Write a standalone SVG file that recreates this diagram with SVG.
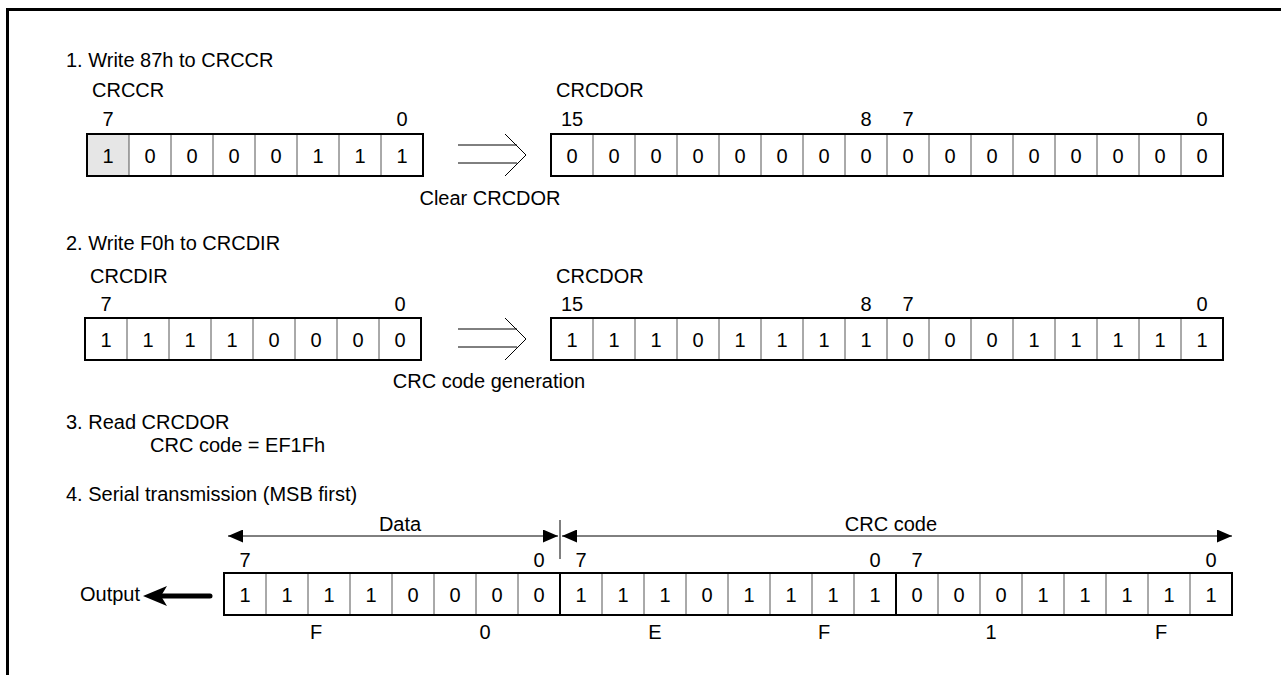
<svg xmlns="http://www.w3.org/2000/svg" width="1281" height="675" viewBox="0 0 1281 675">
<style>
text{font-family:"Liberation Sans",Arial,sans-serif;font-size:20px;fill:#000}
.c{text-anchor:middle}
.box{fill:none;stroke:#000;stroke-width:2}
.div{stroke:#555;stroke-width:1}
.sep{stroke:#000;stroke-width:2}
.thin{stroke:#000;stroke-width:1;fill:none}
</style>
<defs>
<marker id="ah" viewBox="0 0 15 13" refX="15" refY="6.5" markerWidth="15" markerHeight="13" markerUnits="userSpaceOnUse" orient="auto-start-reverse"><path d="M0,0 L15,6.5 L0,13 Z" fill="#000"/></marker>
</defs>
<rect width="1281" height="675" fill="#fff"/>
<path d="M7.5,675 V9.5 H1281" fill="none" stroke="#000" stroke-width="3"/>

<text x="66" y="67">1. Write 87h to CRCCR</text>
<text x="66" y="250">2. Write F0h to CRCDIR</text>
<text x="66" y="429">3. Read CRCDOR</text>
<text x="150" y="452">CRC code = EF1Fh</text>
<text x="66" y="501">4. Serial transmission (MSB first)</text>

<g id="crccr">
<text x="92" y="97">CRCCR</text>
<text class="c" x="108" y="126">7</text><text class="c" x="402" y="126">0</text>
<rect x="87" y="134" width="42" height="42" fill="#e6e6e6"/>
<g class="div"><line x1="129" y1="134" x2="129" y2="176"/><line x1="171" y1="134" x2="171" y2="176"/><line x1="213" y1="134" x2="213" y2="176"/><line x1="255" y1="134" x2="255" y2="176"/><line x1="297" y1="134" x2="297" y2="176"/><line x1="339" y1="134" x2="339" y2="176"/><line x1="381" y1="134" x2="381" y2="176"/></g>
<rect class="box" x="87" y="134" width="336" height="42"/>
<g class="c"><text x="108" y="163">1</text><text x="150" y="163">0</text><text x="192" y="163">0</text><text x="234" y="163">0</text><text x="276" y="163">0</text><text x="318" y="163">1</text><text x="360" y="163">1</text><text x="402" y="163">1</text></g>
</g>

<g id="crcdor1">
<text x="556" y="97">CRCDOR</text>
<g class="c"><text x="572" y="126">15</text><text x="866" y="126">8</text><text x="908" y="126">7</text><text x="1202" y="126">0</text></g>
<g class="div"><line x1="593" y1="134" x2="593" y2="176"/><line x1="635" y1="134" x2="635" y2="176"/><line x1="677" y1="134" x2="677" y2="176"/><line x1="719" y1="134" x2="719" y2="176"/><line x1="761" y1="134" x2="761" y2="176"/><line x1="803" y1="134" x2="803" y2="176"/><line x1="845" y1="134" x2="845" y2="176"/><line x1="887" y1="134" x2="887" y2="176"/><line x1="929" y1="134" x2="929" y2="176"/><line x1="971" y1="134" x2="971" y2="176"/><line x1="1013" y1="134" x2="1013" y2="176"/><line x1="1055" y1="134" x2="1055" y2="176"/><line x1="1097" y1="134" x2="1097" y2="176"/><line x1="1139" y1="134" x2="1139" y2="176"/><line x1="1181" y1="134" x2="1181" y2="176"/></g>
<rect class="box" x="551" y="134" width="672" height="42"/>
<g class="c"><text x="572" y="163">0</text><text x="614" y="163">0</text><text x="656" y="163">0</text><text x="698" y="163">0</text><text x="740" y="163">0</text><text x="782" y="163">0</text><text x="824" y="163">0</text><text x="866" y="163">0</text><text x="908" y="163">0</text><text x="950" y="163">0</text><text x="992" y="163">0</text><text x="1034" y="163">0</text><text x="1076" y="163">0</text><text x="1118" y="163">0</text><text x="1160" y="163">0</text><text x="1202" y="163">0</text></g>
</g>
<text class="c" x="490" y="205">Clear CRCDOR</text>

<g id="crcdir">
<text x="90" y="283">CRCDIR</text>
<text class="c" x="106" y="311">7</text><text class="c" x="400" y="311">0</text>
<g class="div"><line x1="127" y1="318" x2="127" y2="360"/><line x1="169" y1="318" x2="169" y2="360"/><line x1="211" y1="318" x2="211" y2="360"/><line x1="253" y1="318" x2="253" y2="360"/><line x1="295" y1="318" x2="295" y2="360"/><line x1="337" y1="318" x2="337" y2="360"/><line x1="379" y1="318" x2="379" y2="360"/></g>
<rect class="box" x="85" y="318" width="336" height="42"/>
<g class="c"><text x="106" y="347">1</text><text x="148" y="347">1</text><text x="190" y="347">1</text><text x="232" y="347">1</text><text x="274" y="347">0</text><text x="316" y="347">0</text><text x="358" y="347">0</text><text x="400" y="347">0</text></g>
</g>

<g id="crcdor2">
<text x="556" y="283">CRCDOR</text>
<g class="c"><text x="572" y="311">15</text><text x="866" y="311">8</text><text x="908" y="311">7</text><text x="1202" y="311">0</text></g>
<g class="div"><line x1="593" y1="318" x2="593" y2="360"/><line x1="635" y1="318" x2="635" y2="360"/><line x1="677" y1="318" x2="677" y2="360"/><line x1="719" y1="318" x2="719" y2="360"/><line x1="761" y1="318" x2="761" y2="360"/><line x1="803" y1="318" x2="803" y2="360"/><line x1="845" y1="318" x2="845" y2="360"/><line x1="887" y1="318" x2="887" y2="360"/><line x1="929" y1="318" x2="929" y2="360"/><line x1="971" y1="318" x2="971" y2="360"/><line x1="1013" y1="318" x2="1013" y2="360"/><line x1="1055" y1="318" x2="1055" y2="360"/><line x1="1097" y1="318" x2="1097" y2="360"/><line x1="1139" y1="318" x2="1139" y2="360"/><line x1="1181" y1="318" x2="1181" y2="360"/></g>
<rect class="box" x="551" y="318" width="672" height="42"/>
<g class="c"><text x="572" y="347">1</text><text x="614" y="347">1</text><text x="656" y="347">1</text><text x="698" y="347">0</text><text x="740" y="347">1</text><text x="782" y="347">1</text><text x="824" y="347">1</text><text x="866" y="347">1</text><text x="908" y="347">0</text><text x="950" y="347">0</text><text x="992" y="347">0</text><text x="1034" y="347">1</text><text x="1076" y="347">1</text><text x="1118" y="347">1</text><text x="1160" y="347">1</text><text x="1202" y="347">1</text></g>
</g>
<text class="c" x="489" y="388">CRC code generation</text>

<g id="serial">
<g class="c"><text x="245" y="567">7</text><text x="539" y="567">0</text><text x="581" y="567">7</text><text x="875" y="567">0</text><text x="917" y="567">7</text><text x="1211" y="567">0</text></g>
<g class="div"><line x1="266" y1="573" x2="266" y2="615"/><line x1="308" y1="573" x2="308" y2="615"/><line x1="350" y1="573" x2="350" y2="615"/><line x1="392" y1="573" x2="392" y2="615"/><line x1="434" y1="573" x2="434" y2="615"/><line x1="476" y1="573" x2="476" y2="615"/><line x1="518" y1="573" x2="518" y2="615"/><line x1="602" y1="573" x2="602" y2="615"/><line x1="644" y1="573" x2="644" y2="615"/><line x1="686" y1="573" x2="686" y2="615"/><line x1="728" y1="573" x2="728" y2="615"/><line x1="770" y1="573" x2="770" y2="615"/><line x1="812" y1="573" x2="812" y2="615"/><line x1="854" y1="573" x2="854" y2="615"/><line x1="938" y1="573" x2="938" y2="615"/><line x1="980" y1="573" x2="980" y2="615"/><line x1="1022" y1="573" x2="1022" y2="615"/><line x1="1064" y1="573" x2="1064" y2="615"/><line x1="1106" y1="573" x2="1106" y2="615"/><line x1="1148" y1="573" x2="1148" y2="615"/><line x1="1190" y1="573" x2="1190" y2="615"/></g>
<line class="sep" x1="560" y1="573" x2="560" y2="615"/><line class="sep" x1="896" y1="573" x2="896" y2="615"/>
<rect class="box" x="224" y="573" width="1008" height="42"/>
<g class="c"><text x="245" y="602">1</text><text x="287" y="602">1</text><text x="329" y="602">1</text><text x="371" y="602">1</text><text x="413" y="602">0</text><text x="455" y="602">0</text><text x="497" y="602">0</text><text x="539" y="602">0</text><text x="581" y="602">1</text><text x="623" y="602">1</text><text x="665" y="602">1</text><text x="707" y="602">0</text><text x="749" y="602">1</text><text x="791" y="602">1</text><text x="833" y="602">1</text><text x="875" y="602">1</text><text x="917" y="602">0</text><text x="959" y="602">0</text><text x="1001" y="602">0</text><text x="1043" y="602">1</text><text x="1085" y="602">1</text><text x="1127" y="602">1</text><text x="1169" y="602">1</text><text x="1211" y="602">1</text></g>
<g class="c"><text x="316" y="639">F</text><text x="485" y="639">0</text><text x="655" y="639">E</text><text x="824" y="639">F</text><text x="991" y="639">1</text><text x="1161" y="639">F</text></g>
</g>

<g id="output">
<text x="80" y="601">Output</text>
</g>

<g id="connectors">
<line class="thin" x1="458" y1="145" x2="517" y2="145"/><line class="thin" x1="458" y1="163" x2="517" y2="163"/>
<polyline class="thin" points="505,134 526,155 505,176"/>
<line class="thin" x1="458" y1="329" x2="517" y2="329"/><line class="thin" x1="458" y1="347" x2="517" y2="347"/>
<polyline class="thin" points="505,318 526,339 505,360"/>
<line x1="162" y1="596" x2="210" y2="596" stroke="#000" stroke-width="5" stroke-linecap="round"/>
<polygon points="143,596 167,586 161,596 167,606" fill="#000"/>
<line class="thin" x1="560" y1="520" x2="560" y2="559"/>
<line class="thin" x1="228" y1="536" x2="558" y2="536" marker-start="url(#ah)" marker-end="url(#ah)"/>
<line class="thin" x1="562" y1="536" x2="1232" y2="536" marker-start="url(#ah)" marker-end="url(#ah)"/>
<text class="c" x="400" y="531">Data</text>
<text class="c" x="891" y="531">CRC code</text>
</g>
</svg>
